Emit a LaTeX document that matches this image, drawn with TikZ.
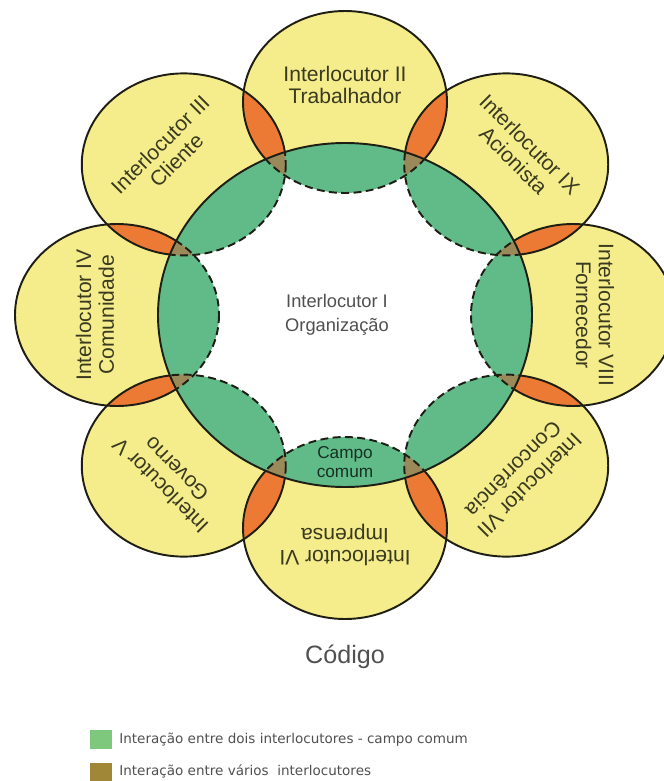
\documentclass[tikz,border=0pt]{standalone}
\usepackage{fontspec}
\setmainfont{Liberation Sans}
\newfontfamily\legendfont{DejaVu Sans}
\usetikzlibrary{calc}

\definecolor{ringYellow}{HTML}{F5ED8C}
\definecolor{campoGreen}{HTML}{60BB89}
\definecolor{pairOrange}{HTML}{EC7A35}
\definecolor{multiBrown}{HTML}{9A8A5A}
\definecolor{legGreen}{HTML}{7DC87D}
\definecolor{legBrown}{HTML}{A08737}
\definecolor{lineDark}{HTML}{1E1E14}
\definecolor{textOlive}{HTML}{3A3A20}
\definecolor{textGray}{HTML}{505050}

% ring of interlocutors: outer radii, big circle radii
\newcommand{\rx}{102}
\newcommand{\ry}{91}
\newcommand{\bigrx}{187}
\newcommand{\bigry}{172}

\tikzset{
    ringline/.style={draw=lineDark, line width=1.1pt},
    ringdash/.style={draw=lineDark, line width=1.1pt,
        dash pattern=on 4.5pt off 2.5pt},
    circlabel/.style={
        font=\fontsize{12}{13}\selectfont,
        text=textOlive,
        align=center,
        inner sep=0pt
    },
    centrallabel/.style={
        font=\fontsize{10.4}{13.6}\selectfont,
        text=textGray,
        align=center,
        inner sep=0pt
    },
    legbox/.style={
        rectangle,
        minimum width=0.44cm,
        minimum height=0.38cm,
        inner sep=0pt
    },
    legtext/.style={
        font=\legendfont\fontsize{7.7}{9}\selectfont,
        text=textGray,
        anchor=west,
        inner sep=0pt
    }
}

\begin{document}
\begin{tikzpicture}[x=0.02cm, y=-0.02cm]
    \useasboundingbox (0,0) rectangle (663,781);

    \coordinate (O) at (345,315);
    \foreach \i/\a in {1/90,2/45,3/0,4/-45,5/-90,6/-135,7/180,8/135}
        \coordinate (C\i) at ({345+228*cos(\a)},{315-213*sin(\a)});

    % yellow circles
    \foreach \i in {1,...,8}
        \fill[ringYellow] (C\i) ellipse [x radius=\rx, y radius=\ry];

    % two neighbours overlap
    \foreach \i/\j in {1/2,2/3,3/4,4/5,5/6,6/7,7/8,8/1} {
        \begin{scope}
            \clip (C\i) ellipse [x radius=\rx, y radius=\ry];
            \fill[pairOrange] (C\j) ellipse [x radius=\rx, y radius=\ry];
        \end{scope}
    }
    \foreach \i in {1,...,8}
        \draw[ringline] (C\i) ellipse [x radius=\rx, y radius=\ry];

    % inside interlocutor I
    \begin{scope}
        \clip (O) ellipse [x radius=\bigrx, y radius=\bigry];
        \fill[white] (O) ellipse [x radius=\bigrx, y radius=\bigry];
        \foreach \i in {1,...,8}
            \fill[campoGreen] (C\i) ellipse [x radius=\rx, y radius=\ry];
        \foreach \i/\j in {1/2,2/3,3/4,4/5,5/6,6/7,7/8,8/1} {
            \begin{scope}
                \clip (C\i) ellipse [x radius=\rx, y radius=\ry];
                \fill[multiBrown] (C\j) ellipse [x radius=\rx, y radius=\ry];
            \end{scope}
        }
        \foreach \i in {1,...,8}
            \draw[ringdash] (C\i) ellipse [x radius=\rx, y radius=\ry];
    \end{scope}
    \draw[ringline] (O) ellipse [x radius=\bigrx, y radius=\bigry];

    % labels of the interlocutors
    \foreach \i/\a/\txt in {
            1/90/{Interlocutor II\\Trabalhador},
            2/45/{Interlocutor IX\\Acionista},
            3/0/{Interlocutor VIII\\Fornecedor},
            4/-45/{Interlocutor VII\\Concorrência},
            5/-90/{Interlocutor VI\\Imprensa},
            6/-135/{Interlocutor V\\Governo},
            7/180/{Interlocutor IV\\Comunidade},
            8/135/{Interlocutor III\\Cliente}}
        \node[circlabel, rotate=\a-90] (L\i)
            at ({345+250*cos(\a)},{315-230*sin(\a)}) {\txt};

    \node[centrallabel] (org) at (337,315) {Interlocutor I\\Organização};
    \node[circlabel, font=\fontsize{9.8}{11.3}\selectfont, text=black!75!campoGreen]
        (campo) at (345,462) {Campo\\comum};

    \node[font=\fontsize{14.3}{16}\selectfont, text=textGray, inner sep=0pt]
        (codigo) at (345,657) {Código};

    % legend
    \node[legbox, fill=legGreen] (kgreen) at (101,739.5) {};
    \node[legbox, fill=legBrown] (kbrown) at (101,772) {};
    \node[legtext] (tgreen) at (119,740)
        {Interação entre dois interlocutores - campo comum};
    \node[legtext] (tbrown) at (119,771)
        {Interação entre vários\ \ interlocutores};
\end{tikzpicture}
\end{document}
